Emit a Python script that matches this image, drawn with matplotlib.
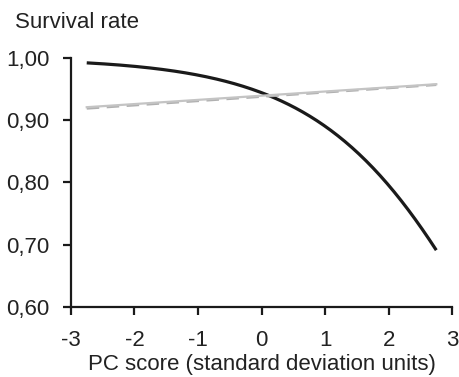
import numpy as np
import matplotlib
matplotlib.use("Agg")
import matplotlib.pyplot as plt

plt.rcParams['font.family'] = ['Liberation Sans', 'DejaVu Sans']

# values
pc_score = [-2.75, -2.0, -1.0, 0.0, 0.5, 1.0, 1.5, 2.0, 2.5, 2.75]
survival_black = [0.992, 0.988, 0.970, 0.943, 0.923, 0.894, 0.852, 0.795, 0.723, 0.692]

grey_x = [-2.75, 2.75]
survival_grey_solid = [0.921, 0.958]
survival_grey_dashed = [0.919, 0.957]

x_ticks = [-3, -2, -1, 0, 1, 2, 3]
y_ticks = [0.60, 0.70, 0.80, 0.90, 1.00]
y_tick_labels = ['0,60', '0,70', '0,80', '0,90', '1,00']

fig = plt.figure(figsize=(4.6, 3.77), dpi=100)
ax = fig.add_axes([0.154, 0.186, 0.829, 0.66])

# black curve is a logistic: smooth it in logit space through the read points
p = np.array(survival_black)
coef = np.polyfit(pc_score, np.log(p / (1 - p)), 1)
xs = np.linspace(pc_score[0], pc_score[-1], 200)
ax.plot(xs, 1 / (1 + np.exp(-np.polyval(coef, xs))), color='#1a1a1a', lw=2.3,
        solid_capstyle='butt')

ax.plot(grey_x, survival_grey_dashed, color='#b0b0b0', lw=1.8, ls=(0, (5, 3)))
ax.plot(grey_x, survival_grey_solid, color='#c4c4c4', lw=1.6)

ax.set_xlim(-3, 3)
ax.set_ylim(0.60, 1.00)
ax.set_xticks(x_ticks)
ax.set_xticklabels([str(t) for t in x_ticks])
ax.set_yticks(y_ticks)
ax.set_yticklabels(y_tick_labels)

for s in ['top', 'right']:
    ax.spines[s].set_visible(False)
for s in ['left', 'bottom']:
    ax.spines[s].set_linewidth(1.6)
    ax.spines[s].set_color('#1a1a1a')
ax.tick_params(direction='out', length=6, width=1.6, colors='#1a1a1a',
               labelcolor='#222222', labelsize=16)
ax.tick_params(axis='x', pad=10.5)
ax.tick_params(axis='y', pad=9.5)

ax.set_xlabel('PC score (standard deviation units)', fontsize=16, color='#222222', labelpad=2)
fig.text(0.033, 0.94, 'Survival rate', fontsize=16, color='#222222', va='center')

fig.savefig('out.png', dpi=100)
